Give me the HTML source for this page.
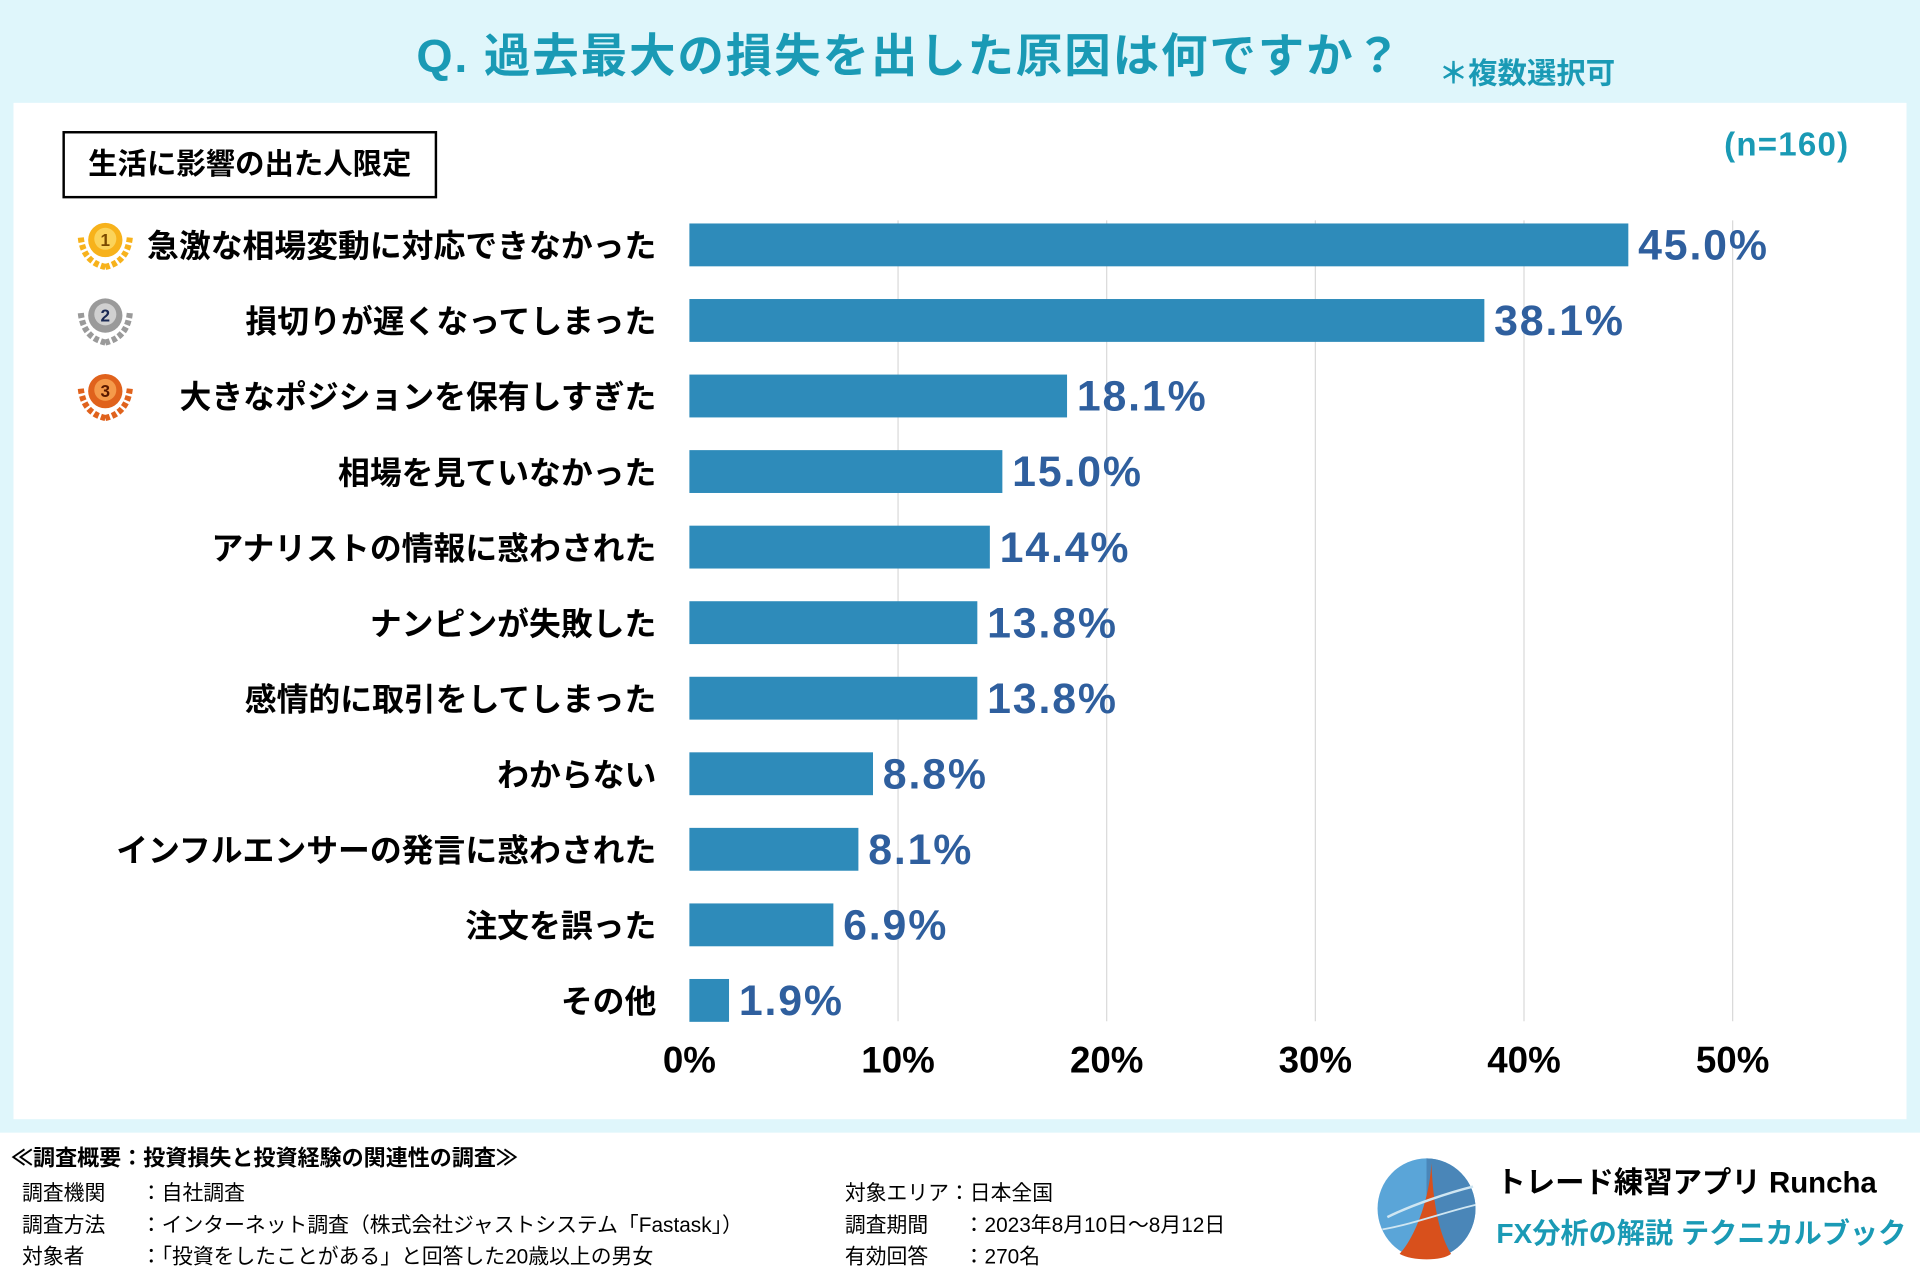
<!DOCTYPE html>
<html><head><meta charset="utf-8">
<style>
html,body{margin:0;padding:0;width:1920px;height:1280px;overflow:hidden;background:#fff;}
#wrap{position:absolute;left:0;top:0;width:1568px;height:1046px;transform:scale(1.22449);transform-origin:0 0;font-family:"Liberation Sans","Noto Sans CJK JP",sans-serif;}
.abs{position:absolute;white-space:nowrap;}
</style></head>
<body>
<div id="wrap">
  <div class="abs" style="left:0;top:0;width:1568px;height:925px;background:#dff6fb;"></div>
  <div class="abs" style="left:340px;top:15px;font-size:38px;letter-spacing:1.5px;font-weight:bold;color:#1a9ab5;">Q. 過去最大の損失を出した原因は何ですか？</div>
  <div class="abs" style="left:1175px;top:40px;font-size:24px;font-weight:bold;color:#1a9ab5;">＊複数選択可</div>
  <div class="abs" style="left:11px;top:84px;width:1546px;height:830px;background:#fff;"></div>
  <div class="abs" style="left:51px;top:107px;width:302px;height:51px;border:2px solid #000;font-size:24px;font-weight:bold;line-height:51px;text-align:center;color:#000;">生活に影響の出た人限定</div>
  <div class="abs" style="left:1408px;top:103px;font-size:27px;letter-spacing:1px;font-weight:bold;color:#1a9ab5;">(n=160)</div>
  <svg id="chart" class="abs" style="left:0;top:0;" width="1568" height="925" xmlns="http://www.w3.org/2000/svg"></svg>

  <div class="abs" style="left:9px;top:932px;font-size:18px;font-weight:bold;">≪調査概要：投資損失と投資経験の関連性の調査≫</div>
  <div class="abs" style="left:18px;top:962px;font-size:17px;line-height:26px;">
    <div>調査機関<span style="position:absolute;left:97px;">：自社調査</span></div>
    <div>調査方法<span style="position:absolute;left:97px;">：インターネット調査（株式会社ジャストシステム「Fastask」）</span></div>
    <div>対象者<span style="position:absolute;left:97px;">：「投資をしたことがある」と回答した20歳以上の男女</span></div>
  </div>
  <div class="abs" style="left:690px;top:962px;font-size:17px;line-height:26px;">
    <div>対象エリア：日本全国</div>
    <div>調査期間<span style="position:absolute;left:97px;">：2023年8月10日～8月12日</span></div>
    <div>有効回答<span style="position:absolute;left:97px;">：270名</span></div>
  </div>
  <svg class="abs" style="left:1123px;top:944px;" width="84" height="86">
    <ellipse cx="42" cy="43" rx="40" ry="41" fill="#5aa5d8"/>
    <path d="M42 2 A40 41 0 0 1 82 43 A40 41 0 0 1 42 84 Z" fill="#4a86b8"/>
    <path d="M46 6 C44 40 30 70 20 80 C30 86 55 86 62 80 C50 60 47 30 46 6Z" fill="#d8501c"/>
    <path d="M10 50 C30 40 60 30 80 25" stroke="#cfe6f2" stroke-width="2" fill="none"/>
    <path d="M6 60 C30 56 60 45 82 40" stroke="#cfe6f2" stroke-width="1.5" fill="none"/>
  </svg>
  <div class="abs" style="left:1222px;top:946px;font-size:24px;font-weight:bold;color:#000;">トレード練習アプリ Runcha</div>
  <div class="abs" style="left:1222px;top:988px;font-size:23px;font-weight:bold;color:#1a9ab5;">FX分析の解説 テクニカルブック</div>
</div>
<script>
const categories = ["急激な相場変動に対応できなかった","損切りが遅くなってしまった","大きなポジションを保有しすぎた","相場を見ていなかった","アナリストの情報に惑わされた","ナンピンが失敗した","感情的に取引をしてしまった","わからない","インフルエンサーの発言に惑わされた","注文を誤った","その他"];
const values = [45.0,38.1,18.1,15.0,14.4,13.8,13.8,8.8,8.1,6.9,1.9];
const ticks = [0,10,20,30,40,50];
const tickLabels = ["0%","10%","20%","30%","40%","50%"];

const NS="http://www.w3.org/2000/svg";
const svg=document.getElementById('chart');
const x0=563, pxPer=17.04, y0=200, step=61.7, bh=35;
const xs=v=>x0+v*pxPer;
const ys=i=>y0+i*step;
function mk(t,a){const e=document.createElementNS(NS,t);for(const k in a)e.setAttribute(k,a[k]);svg.appendChild(e);return e;}
ticks.forEach((t,i)=>{
  if(i>0){const g=mk('line',{x1:xs(t),x2:xs(t),y1:180,y2:834,stroke:'#d9d9d9','stroke-width':1});
  
  }
  const tl=mk('text',{x:xs(t),y:876,'text-anchor':'middle','font-size':30,'font-weight':'bold',fill:'#000'});
  
  
  tl.textContent=tickLabels[i];
});
const medalCols=[['#f7b21b','#fbd35a','#7a4a00'],['#9a9a9a','#d0d0d0','#1b2a55'],['#e0621c','#f59a4a','#5a1a00']];
categories.forEach((c,i)=>{
  const y=ys(i);
  const b=mk('rect',{x:x0,y:y-bh/2,width:xs(values[i])-x0,height:bh,fill:'#2e8bba'});
  
  
  const v=mk('text',{x:xs(values[i])+8,y:y+12,'font-size':35,'letter-spacing':1.5,'font-weight':'bold',fill:'#2f5f9e'});
  
  
  v.textContent=values[i].toFixed(1)+'%';
  const l=mk('text',{x:536,y:y+10,'text-anchor':'end','font-size':26,'font-weight':'bold',fill:'#000'});
  
  
  l.textContent=c;
  if(i<3){
    const col=medalCols[i];
    const m=mk('g',{});
    
    
    const p1=document.createElementNS(NS,'path');p1.setAttribute('d',`M66 ${y-6} Q68 ${y+14} 86 ${y+18} M106 ${y-6} Q104 ${y+14} 86 ${y+18}`);p1.setAttribute('stroke',col[0]);p1.setAttribute('stroke-width',5);p1.setAttribute('fill','none');p1.setAttribute('stroke-dasharray','4 2');m.appendChild(p1);
    const c1=document.createElementNS(NS,'circle');c1.setAttribute('cx',86);c1.setAttribute('cy',y-4);c1.setAttribute('r',14);c1.setAttribute('fill',col[0]);m.appendChild(c1);
    const c2=document.createElementNS(NS,'circle');c2.setAttribute('cx',86);c2.setAttribute('cy',y-5);c2.setAttribute('r',9);c2.setAttribute('fill',col[1]);m.appendChild(c2);
    const t=document.createElementNS(NS,'text');t.setAttribute('x',86);t.setAttribute('y',y+1);t.setAttribute('text-anchor','middle');t.setAttribute('font-size',14);t.setAttribute('font-weight','bold');t.setAttribute('fill',col[2]);t.textContent=String(i+1);m.appendChild(t);
  }
});
</script>
</body></html>
